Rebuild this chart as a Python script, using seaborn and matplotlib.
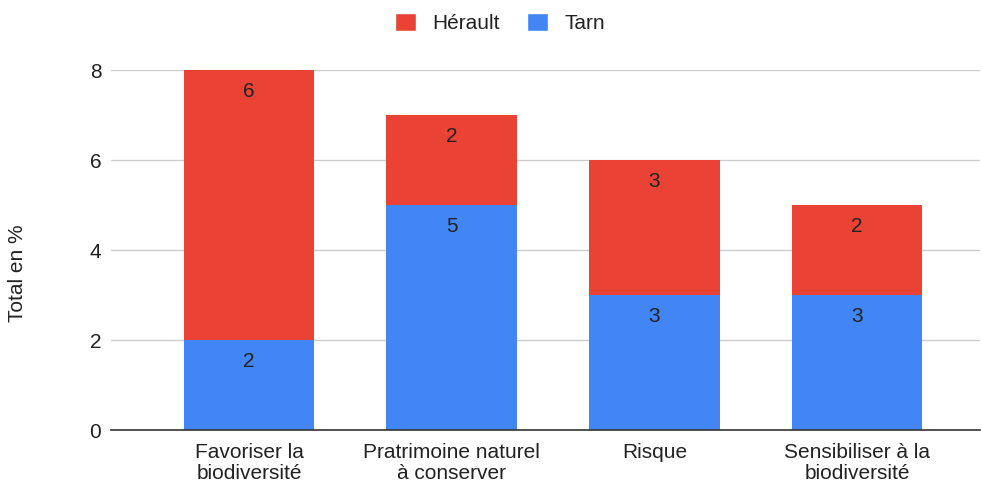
import matplotlib
matplotlib.use("Agg")
import matplotlib.pyplot as plt
from matplotlib.patches import Patch
import seaborn as sns
import numpy as np

categories = ["Favoriser la\nbiodiversité", "Pratrimoine naturel\nà conserver",
              "Risque", "Sensibiliser à la\nbiodiversité"]
tarn = [2, 5, 3, 3]
herault = [6, 2, 3, 2]
yticks = [0, 2, 4, 6, 8]

RED = "#EA4335"
BLUE = "#4285F4"
TXT = "#222222"
FS = 15

sns.set_theme(style="white")
plt.rcParams["font.family"] = ["Liberation Sans", "DejaVu Sans"]

fig = plt.figure(figsize=(9.82, 4.86), dpi=100)
ax = fig.add_axes([111 / 982, 1 - 430 / 486, (980 - 111) / 982, 360 / 486])

# Tarn at the bottom, Hérault stacked on top of it
sns.barplot(x=categories, y=tarn, color=BLUE, width=0.646, saturation=1,
            linewidth=0, ax=ax, zorder=2)
sns.barplot(x=categories, y=herault, bottom=np.array(tarn), color=RED,
            width=0.646, saturation=1, linewidth=0, ax=ax, zorder=2)

for cont, vals in zip(ax.containers, [tarn, herault]):
    ax.bar_label(cont, labels=[str(v) for v in vals], padding=-22,
                 fontsize=FS, color=TXT)

ax.set_ylim(0, 8)
ax.set_xlim(-0.681, 3.607)
ax.set_yticks(yticks)
ax.set_yticklabels([str(t) for t in yticks])
ax.yaxis.grid(True, color="#cccccc", linewidth=1, zorder=0)
ax.set_axisbelow(True)
for s in ["top", "right", "left"]:
    ax.spines[s].set_visible(False)
ax.spines["bottom"].set_color("#333333")
ax.spines["bottom"].set_linewidth(1.2)
ax.spines["bottom"].set_zorder(3)
ax.tick_params(axis="both", length=0, labelsize=FS, colors=TXT)
ax.tick_params(axis="y", pad=7)
ax.tick_params(axis="x", pad=9)
for lbl in ax.get_xticklabels():
    lbl.set_linespacing(1.15)
ax.set_xlabel("")
ax.set_ylabel("")

fig.text(18 / 982, 1 - 273 / 486, "Total en %", rotation=90, ha="center",
         va="center", fontsize=FS, color=TXT)

handles = [Patch(facecolor=RED, label="Hérault"), Patch(facecolor=BLUE, label="Tarn")]
fig.legend(handles=handles, loc="center", bbox_to_anchor=(500 / 982, 1 - 23 / 486),
           ncol=2, frameon=False, handlelength=1.0, handleheight=1.0,
           handletextpad=0.8, columnspacing=1.3,
           prop={"size": FS}, labelcolor=TXT)

fig.savefig("out.png", dpi=100)
